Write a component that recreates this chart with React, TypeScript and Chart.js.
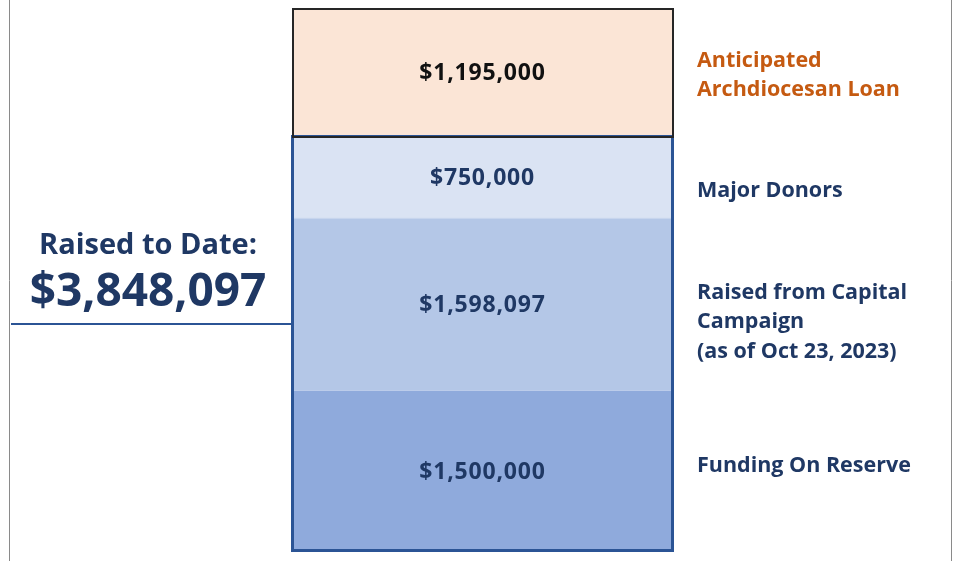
import React, { useEffect, useRef } from "react";
import { Chart, registerables } from "chart.js";

Chart.register(...registerables);

// ---- data ----
const categories = ["Funding"];
const segmentNames = [
  "Funding On Reserve",
  "Raised from Capital Campaign",
  "Major Donors",
  "Anticipated Archdiocesan Loan",
];
const segmentValues = [1500000, 1598097, 750000, 1195000];
const rightLabelLines = [
  ["Funding On Reserve"],
  ["Raised from Capital", "Campaign", "(as of Oct 23, 2023)"],
  ["Major Donors"],
  ["Anticipated", "Archdiocesan Loan"],
];
const raisedTitle = "Raised to Date:";
const raisedSegmentCount = 3; // first three segments are raised funds

// ---- styles ----
const FONT = "'Open Sans', 'Liberation Sans', sans-serif";
const NAVY_TEXT = "#1F3864";
const NAVY_LINE = "#2B5495";
const ORANGE = "#C55A11";
const fills = ["#8FAADC", "#B4C7E7", "#DAE3F3", "#FBE5D6"];
const valueColors = [NAVY_TEXT, NAVY_TEXT, NAVY_TEXT, "#111111"];
const labelColors = [NAVY_TEXT, NAVY_TEXT, NAVY_TEXT, ORANGE];
const labelOffsets = [-5, 18, 14, 3];

const fmt = (v: number) => "$" + v.toLocaleString("en-US");

const overlayPlugin = {
  id: "overlay",
  afterDatasetsDraw(chart: any) {
    const ctx = chart.ctx as CanvasRenderingContext2D;
    const area = chart.chartArea;
    const W = chart.width;
    const H = chart.height;
    ctx.save();

    // side frame lines
    ctx.strokeStyle = "#8a8a8a";
    ctx.lineWidth = 1;
    ctx.beginPath();
    ctx.moveTo(9.5, 0);
    ctx.lineTo(9.5, H);
    ctx.moveTo(W - 2.5, 0);
    ctx.lineTo(W - 2.5, H);
    ctx.stroke();

    // segment outlines
    const els = chart.data.datasets.map((_: any, i: number) => chart.getDatasetMeta(i).data[0]);
    const left = Math.round(els[0].x - els[0].width / 2);
    const right = Math.round(els[0].x + els[0].width / 2);
    const blueTop = Math.round(els[raisedSegmentCount - 1].y);
    const blueBottom = Math.round(els[0].base);
    // faint separators inside the blue group
    ctx.strokeStyle = "rgba(255,255,255,0.25)";
    ctx.lineWidth = 1;
    ctx.beginPath();
    for (let i = 0; i < raisedSegmentCount - 1; i++) {
      const y = Math.round(els[i].y) + 0.5;
      ctx.moveTo(left, y);
      ctx.lineTo(right, y);
    }
    ctx.stroke();
    ctx.strokeStyle = NAVY_LINE;
    ctx.lineWidth = 3;
    ctx.strokeRect(left + 0.5, blueTop - 0.5, right - left - 1, blueBottom - blueTop - 1);
    const topEl = els[els.length - 1];
    const tTop = Math.round(topEl.y);
    const tBot = Math.round(topEl.base);
    ctx.strokeStyle = "#262626";
    ctx.lineWidth = 2;
    ctx.strokeRect(left + 1, tTop + 1, right - left - 1, tBot - tTop - 1);

    // value labels + right labels
    chart.data.datasets.forEach((ds: any, i: number) => {
      const el = els[i];
      if (!el) return;
      const cy = (el.y + el.base) / 2;
      ctx.fillStyle = valueColors[i];
      ctx.font = `bold 23px ${FONT}`;
      (ctx as any).letterSpacing = "0.8px";
      ctx.textAlign = "center";
      ctx.textBaseline = "middle";
      ctx.fillText(fmt(ds.data[0]), el.x, cy + 1);

      const lines = rightLabelLines[i];
      const lh = 29.5;
      const blockCenter = cy + labelOffsets[i];
      (ctx as any).letterSpacing = "0px";
      ctx.font = `bold 21.5px ${FONT}`;
      ctx.fillStyle = labelColors[i];
      ctx.textAlign = "left";
      lines.forEach((t, k) => {
        const y = blockCenter + (k - (lines.length - 1) / 2) * lh;
        ctx.fillText(t, area.right + 24, y);
      });
    });

    // left summary
    const raised = segmentValues
      .slice(0, raisedSegmentCount)
      .reduce((a, b) => a + b, 0);
    const cx = 148;
    ctx.textAlign = "center";
    ctx.fillStyle = NAVY_TEXT;
    ctx.font = `bold 29px ${FONT}`;
    ctx.fillText(raisedTitle, cx, 246);
    ctx.font = `bold 46px ${FONT}`;
    ctx.fillText(fmt(raised), cx, 293);

    ctx.strokeStyle = NAVY_LINE;
    ctx.lineWidth = 2;
    ctx.beginPath();
    ctx.moveTo(11, 324);
    ctx.lineTo(area.left, 324);
    ctx.stroke();

    ctx.restore();
  },
};

export default function App() {
  const ref = useRef<HTMLCanvasElement | null>(null);
  useEffect(() => {
    if (!ref.current) return;
    const total = segmentValues.reduce((a, b) => a + b, 0);
    const chart = new Chart(ref.current, {
      type: "bar",
      data: {
        labels: categories,
        datasets: segmentValues.map((v, i) => ({
          label: segmentNames[i],
          data: [v],
          backgroundColor: fills[i],
          borderWidth: 0,
          inflateAmount: 0,
          barPercentage: 1,
          categoryPercentage: 1,
        })),
      },
      options: {
        responsive: false,
        animation: false,
        devicePixelRatio: 1,
        layout: { padding: { left: 292, right: 281, top: 8, bottom: 9 } },
        plugins: {
          legend: { display: false },
          tooltip: { enabled: false },
        },
        scales: {
          x: { stacked: true, display: false },
          y: { stacked: true, display: false, min: 0, max: total },
        },
      },
      plugins: [overlayPlugin],
    });
    return () => chart.destroy();
  }, []);

  return (
    <div
      style={{
        position: "fixed",
        left: 0,
        top: 0,
        width: 954,
        height: 561,
        background: "#ffffff",
      }}
    >
      <canvas ref={ref} width={954} height={561} style={{ display: "block" }} />
    </div>
  );
}
